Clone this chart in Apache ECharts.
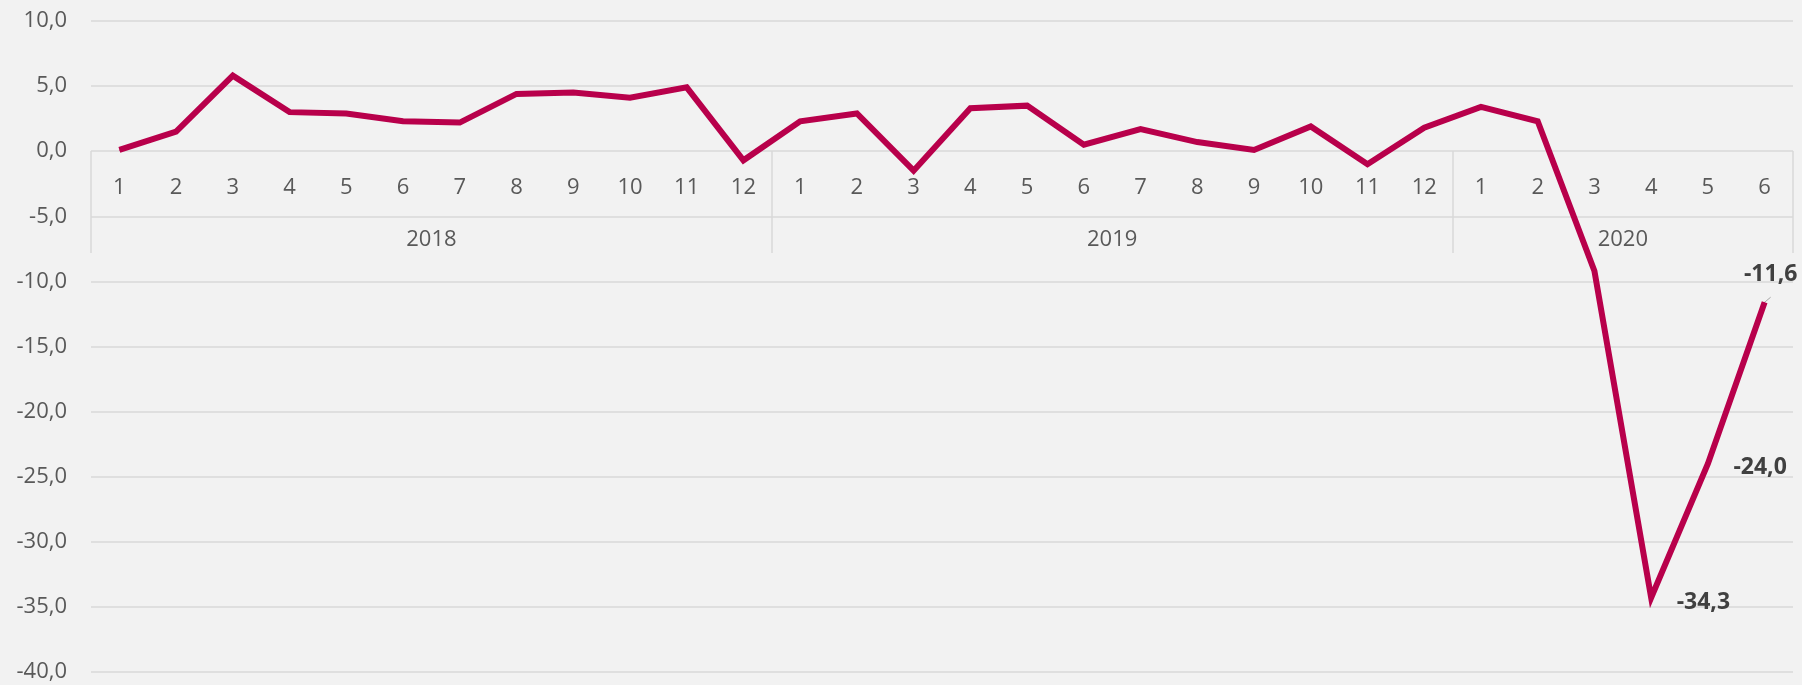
<!DOCTYPE html>
<html>
<head>
<meta charset="utf-8">
<script src="https://cdn.jsdelivr.net/npm/echarts@6/dist/echarts.min.js"></script>
<style>
html,body{margin:0;padding:0;background:#f2f2f2;}
#c{width:1802px;height:685px;}
</style>
</head>
<body>
<div id="c"></div>
<script>
const months = ['1','2','3','4','5','6','7','8','9','10','11','12',
                '1','2','3','4','5','6','7','8','9','10','11','12',
                '1','2','3','4','5','6'];
const values = [0.1, 1.5, 5.8, 3.0, 2.9, 2.3, 2.2, 4.4, 4.5, 4.1, 4.9, -0.7,
                2.3, 2.9, -1.5, 3.3, 3.5, 0.5, 1.7, 0.7, 0.1, 1.9, -1.0, 1.8,
                3.4, 2.3, -9.2, -34.3, -24.0, -11.6];
const years = ['2018', '2019', '2020'];
const yearMonthCounts = [12, 12, 6];
const yMin = -40, yMax = 10, yStep = 5;
const labeledPoints = [27, 28, 29];

const FONT = '"Open Sans", "Noto Sans", sans-serif';
const TXT = '#595959';
const GRIDC = '#d9d9d9';

// year boundaries and centers (in category units)
const bounds = [0];
yearMonthCounts.forEach(n => bounds.push(bounds[bounds.length - 1] + n));
const centers = yearMonthCounts.map((n, i) => bounds[i] + n / 2);

const labelStyles = {
  27: { position: 'right', distance: 25, offset: [0, 5] },
  28: { position: 'right', distance: 25, offset: [0, 4] },
  29: { position: 'top', distance: 16, offset: [6, 0] }
};

const seriesData = values.map((v, i) => {
  if (labeledPoints.indexOf(i) < 0) return v;
  const st = labelStyles[i];
  const item = {
    value: v,
    label: Object.assign({
      show: true,
      formatter: p => p.value.toFixed(1).replace('.', ','),
      fontFamily: FONT, fontWeight: 'bold', fontSize: 23, color: '#404040'
    }, st)
  };
  if (i === 29) item.labelLine = { show: true, lineStyle: { color: '#a6a6a6', width: 1 } };
  return item;
});

const chart = echarts.init(document.getElementById('c'));
chart.setOption({
  backgroundColor: '#f2f2f2',
  animation: false,
  grid: [
    { left: 91, right: 9, top: 21, bottom: 13, outerBoundsMode: 'none', containLabel: false },
    { left: 91, right: 9, top: 151, height: 102, outerBoundsMode: 'none', containLabel: false }
  ],
  xAxis: [{
    type: 'category',
    gridIndex: 0,
    data: months,
    boundaryGap: true,
    axisLine: { show: false, onZero: false },
    axisTick: { show: false },
    splitLine: { show: false },
    axisLabel: { show: false }
  }, {
    type: 'value',
    gridIndex: 1,
    min: 0, max: bounds[bounds.length - 1],
    position: 'bottom',
    axisLine: { show: false, onZero: false },
    splitLine: { show: false },
    axisTick: { show: true, inside: true, length: 102, customValues: bounds,
      lineStyle: { color: GRIDC, width: 1.5 } },
    axisLabel: { show: true, inside: true, margin: 2, customValues: centers,
      fontFamily: FONT, fontSize: 22, color: TXT,
      formatter: v => { const k = centers.indexOf(v); return k >= 0 ? years[k] : ''; } }
  }, {
    type: 'category',
    gridIndex: 1,
    data: months,
    boundaryGap: true,
    position: 'top',
    axisLine: { show: false, onZero: false },
    axisTick: { show: false },
    splitLine: { show: false },
    axisLabel: { show: true, inside: true, margin: 26, interval: 0,
      fontFamily: FONT, fontSize: 22, color: TXT }
  }],
  yAxis: [{
    type: 'value',
    gridIndex: 0,
    min: yMin, max: yMax, interval: yStep,
    axisLine: { show: false },
    axisTick: { show: false },
    splitLine: { lineStyle: { color: GRIDC, width: 1.5 } },
    axisLabel: { fontFamily: FONT, fontSize: 22, color: TXT, margin: 24,
      formatter: v => v.toFixed(1).replace('.', ',') }
  }, {
    type: 'value',
    gridIndex: 1,
    min: 0, max: 1,
    show: false
  }],
  series: [{
    type: 'line',
    xAxisIndex: 0,
    yAxisIndex: 0,
    data: seriesData,
    showSymbol: true,
    symbol: 'circle',
    symbolSize: 1,
    lineStyle: { color: '#b8004b', width: 6, join: 'miter' },
    itemStyle: { color: '#b8004b' }
  }]
});
</script>
</body>
</html>
